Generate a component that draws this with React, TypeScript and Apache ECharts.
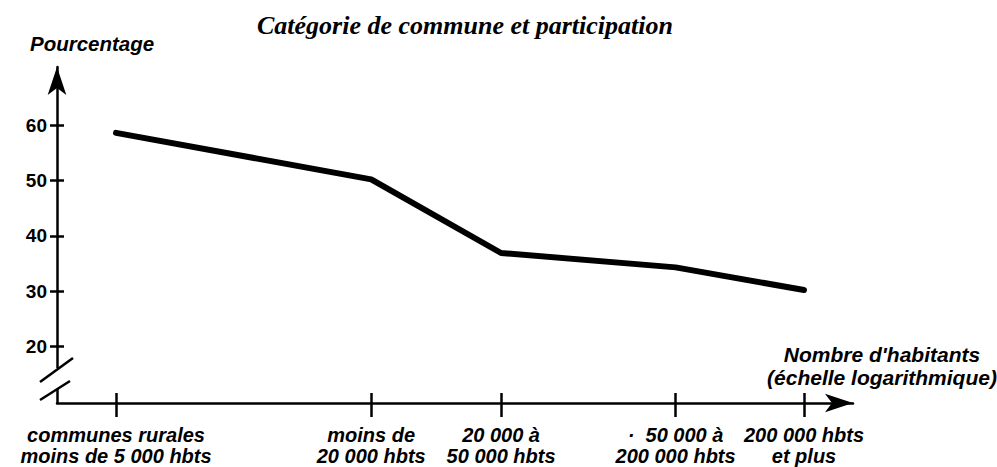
import React, { useEffect, useRef } from "react";
import * as echarts from "echarts";

const categoryLabels = [
  "communes rurales\nmoins de 5 000 hbts",
  "moins de\n20 000 hbts",
  "20 000 à\n50 000 hbts",
  "·  50 000 à\n200 000 hbts",
  "200 000 hbts\net plus",
];
// representative populations on the logarithmic axis
const populations = [5000, 23000, 50000, 142000, 306000];
const participation = [58.6, 50.2, 36.9, 34.3, 30.2];
const yTicks = [20, 30, 40, 50, 60];

const title = "Catégorie de commune et participation";
const yName = "Pourcentage";
const xName = "Nombre d'habitants\n(échelle logarithmique)";

const xMin = 3.5457;
const xMax = 5.613;
const yMin = 9.8;
const yMax = 70.5;

const sans = "'Liberation Sans', Arial, Helvetica, sans-serif";
const serif = "'Liberation Serif', 'Times New Roman', serif";

export default function App() {
  const ref = useRef<HTMLDivElement>(null);
  useEffect(() => {
    if (!ref.current) return;
    const chart = echarts.init(ref.current, undefined, { renderer: "svg" });
    const xPos = populations.map((p) => Math.log10(p));
    const labelFor = (v: number) => {
      let best = 0;
      for (let i = 1; i < xPos.length; i++) {
        if (Math.abs(xPos[i] - v) < Math.abs(xPos[best] - v)) best = i;
      }
      return categoryLabels[best];
    };
    const axisColor = "#000";
    const lw = 2.5;
    chart.setOption({
      animation: false,
      backgroundColor: "#fff",
      title: {
        text: title,
        left: 252,
        top: 7,
        textStyle: {
          fontFamily: serif,
          fontStyle: "italic",
          fontWeight: "bold",
          fontSize: 26,
          color: "#000",
        },
      },
      grid: { left: 57, right: 144, top: 67, bottom: 64, containLabel: false },
      xAxis: [
        {
          type: "value",
          min: xMin,
          max: xMax,
          position: "bottom",
          axisLine: {
            show: true,
            onZero: false,
            symbol: ["none", "arrow"],
            symbolSize: [14, 28],
            lineStyle: { color: axisColor, width: lw },
          },
          axisTick: {
            show: true,
            customValues: xPos,
            length: 14,
            lineStyle: { color: axisColor, width: lw },
          },
          axisLabel: {
            customValues: xPos,
            formatter: (v: number) => labelFor(v),
            margin: 21,
            color: "#000",
            fontFamily: sans,
            fontStyle: "italic",
            fontWeight: "bold",
            fontSize: 20,
            lineHeight: 21,
            align: "center",
          },
          splitLine: { show: false },
        },
        {
          type: "value",
          min: xMin,
          max: xMax,
          position: "bottom",
          axisLine: { show: false, onZero: false },
          axisTick: {
            show: true,
            inside: true,
            customValues: xPos,
            length: 10,
            lineStyle: { color: axisColor, width: lw },
          },
          axisLabel: { show: false },
          splitLine: { show: false },
        },
      ],
      yAxis: [
        {
          type: "value",
          min: yMin,
          max: yMax,
          position: "left",
          axisLine: {
            show: true,
            onZero: false,
            symbol: ["none", "arrow"],
            symbolSize: [14, 28],
            lineStyle: { color: axisColor, width: lw },
          },
          axisTick: {
            show: true,
            customValues: yTicks,
            length: 7,
            lineStyle: { color: axisColor, width: lw },
          },
          axisLabel: {
            customValues: yTicks,
            margin: 10,
            color: "#000",
            fontFamily: sans,
            fontWeight: "bold",
            fontSize: 19,
          },
          splitLine: { show: false },
        },
        {
          type: "value",
          min: yMin,
          max: yMax,
          position: "left",
          axisLine: { show: false, onZero: false },
          axisTick: {
            show: true,
            inside: true,
            customValues: yTicks,
            length: 7,
            lineStyle: { color: axisColor, width: lw },
          },
          axisLabel: { show: false },
          splitLine: { show: false },
        },
      ],
      graphic: [
        {
          type: "rect",
          z: 100,
          shape: { x: 52, y: 368, width: 10, height: 21 },
          style: { fill: "#fff" },
        },
        {
          type: "line",
          z: 101,
          shape: { x1: 40, y1: 382, x2: 73, y2: 358 },
          style: { stroke: "#000", lineWidth: lw },
        },
        {
          type: "line",
          z: 101,
          shape: { x1: 40, y1: 400, x2: 70, y2: 381 },
          style: { stroke: "#000", lineWidth: lw },
        },
        {
          type: "text",
          z: 101,
          left: 30,
          top: 33,
          style: {
            text: yName,
            fill: "#000",
            font: `italic bold 20.5px ${sans}`,
          },
        },
        {
          type: "text",
          z: 101,
          x: 882,
          y: 343,
          style: {
            text: xName,
            fill: "#000",
            font: `italic bold 21px ${sans}`,
            lineHeight: 23,
            align: "center",
          },
        },
      ],
      series: [
        {
          type: "line",
          xAxisIndex: 0,
          yAxisIndex: 0,
          data: xPos.map((x, i) => [x, participation[i]]),
          showSymbol: false,
          symbol: "none",
          lineStyle: { color: "#000", width: 6, cap: "round", join: "round" },
        },
      ],
    });
    return () => chart.dispose();
  }, []);
  return (
    <div
      ref={ref}
      style={{ position: "fixed", left: 0, top: 0, width: 997, height: 467 }}
    />
  );
}
